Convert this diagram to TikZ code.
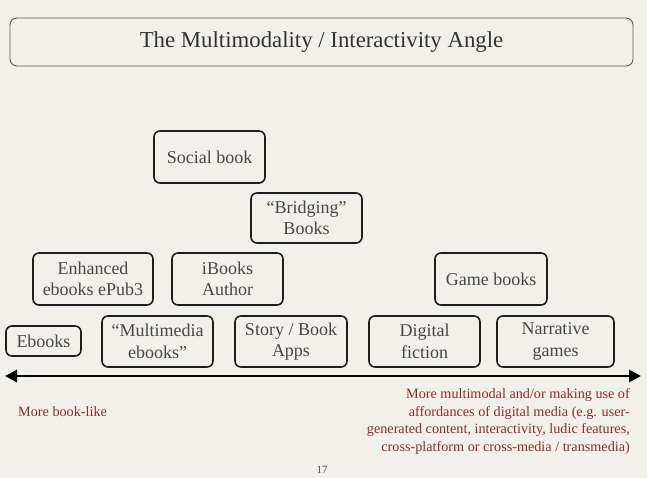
\documentclass[tikz,border=0pt]{standalone}
\usepackage{fontspec}
\setmainfont{Liberation Serif}
\usetikzlibrary{arrows.meta}
\definecolor{bg}{HTML}{F2F0EB}
\definecolor{redtxt}{HTML}{8A2E2A}
\definecolor{boxline}{HTML}{1E1E1E}
\begin{document}
\begin{tikzpicture}[x=1pt,y=-1pt,
  cat/.style={draw=boxline, line width=1.6pt, rounded corners=6pt, align=center,
     font=\fontsize{18}{21.5}\selectfont, text=black!72, inner sep=0pt},
  note/.style={text=redtxt, font=\fontsize{14.2}{17.8}\selectfont, inner sep=0pt}]
\fill[bg] (0,0) rectangle (647,478);
\useasboundingbox (0,0) rectangle (647,478);
% title
\node[draw=black!65, line width=0.9pt, rounded corners=7pt, minimum width=623pt, minimum height=48pt,
  font=\fontsize{22.8}{26}\selectfont, text=black!80] (title) at (321.5,42) {The Multimodality / Interactivity Angle};
% boxes
\node[cat, minimum width=111pt, minimum height=52pt] (social) at (209.5,157) {Social book};
\node[cat, minimum width=111pt, minimum height=50pt] (bridging) at (306.5,218) {``Bridging''\\Books};
\node[cat, minimum width=120pt, minimum height=52pt] (enhanced) at (93,279) {Enhanced\\ebooks ePub3};
\node[cat, minimum width=111pt, minimum height=52pt] (ibooks) at (227.5,279) {iBooks\\Author};
\node[cat, minimum width=112pt, minimum height=52pt] (game) at (491,279) {Game books};
\node[cat, minimum width=75pt, minimum height=30pt] (ebooks) at (43.5,341) {Ebooks};
\node[cat, minimum width=111pt, minimum height=51pt] (multi) at (157.5,341.5) {``Multimedia\\ebooks''};
\node[cat, minimum width=112pt, minimum height=51pt] (story) at (291,341.5) {Story / Book\\Apps};
\node[cat, minimum width=111pt, minimum height=51pt] (digital) at (424.5,341.5) {Digital\\fiction};
\node[cat, minimum width=117pt, minimum height=51pt] (narrative) at (555.5,341.5) {Narrative\\games};
% axis
\coordinate (left) at (5,376);
\coordinate (right) at (641,376);
\draw[line width=2.8pt, {Triangle[length=12pt,width=12pt]}-{Triangle[length=12pt,width=12pt]}] (left) -- (right);
% notes
\node[note, anchor=west] (booklike) at (18,412) {More book-like};
\node[note, anchor=north east, align=right] (multimodal) at (630,388)
 {More multimodal and/or making use of\\affordances of digital media (e.g. user-\\generated content, interactivity, ludic features,\\cross-platform or cross-media / transmedia)};
\node[font=\fontsize{11}{12}\selectfont, text=black!70] (page) at (322,470) {17};
\end{tikzpicture}
\end{document}
